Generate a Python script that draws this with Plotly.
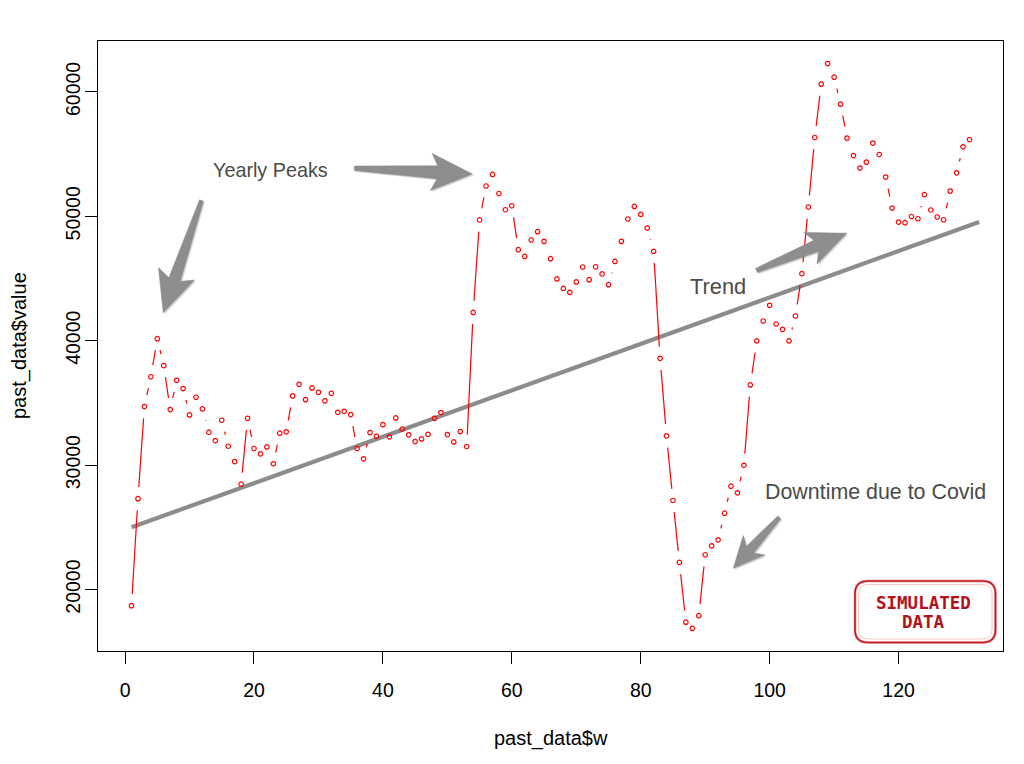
import math
import plotly.graph_objects as go

# ---------------- data ----------------
weeks = list(range(1, 132))
values = [
    18700, 27300, 34700, 37100, 40160, 38000, 34460, 36810, 36150, 34030,
    35450, 34510, 32640, 31970, 33600, 31510, 30280, 28460, 33760, 31330,
    30900, 31460, 30100, 32560, 32670, 35560, 36490, 35260, 36200, 35850,
    35160, 35770, 34240, 34320, 34060, 31330, 30500, 32610, 32310, 33250,
    32270, 33790, 32900, 32430, 31890, 32100, 32470, 33760, 34220, 32450,
    31860, 32690, 31490, 42270, 49700, 52430, 53360, 51830, 50520, 50840,
    47310, 46770, 48090, 48760, 47980, 46590, 44960, 44200, 43880, 44720,
    45920, 44900, 45940, 45360, 44500, 46370, 47980, 49780, 50790, 50150,
    49050, 47170, 38580, 32350, 27150, 22170, 17370, 16870, 17890, 22790,
    23510, 23990, 26130, 28300, 27770, 29980, 36440, 39980, 41580, 42840,
    41340, 40910, 39980, 41980, 45380, 50740, 56330, 60620, 62270, 61180,
    59010, 56280, 54880, 53870, 54350, 55880, 54960, 53150, 50660, 49530,
    49480, 49980, 49800, 51730, 50500, 49940, 49720, 52020, 53490, 55580,
    56170,
]
trend_w = [1, 132.5]
trend_v = [25000, 49540]
x_ticks = [0, 20, 40, 60, 80, 100, 120]
y_ticks = [20000, 30000, 40000, 50000, 60000]
x_title = "past_data$w"
y_title = "past_data$value"
notes = ["Yearly Peaks", "Trend", "Downtime due to Covid"]
stamp_lines = ["SIMULATED", "DATA"]

# ---------------- layout geometry (page pixels; body has 8px margin) ----------------
OFF = 8
FW, FH = 1016, 756
PL, PR, PT, PB = 98, 1003, 41, 651
ML = PL - OFF
MT = PT - OFF
MR = FW - (PR - OFF)
MB = FH - (PB - OFF)
PW = PR - PL
PH = PB - PT

def r_range(v):
    lo, hi = min(v), max(v)
    d = hi - lo
    return [lo - 0.04 * d, hi + 0.04 * d]

xr = r_range(weeks)
yr = r_range(values)
sx = PW / (xr[1] - xr[0])
sy = PH / (yr[1] - yr[0])

# R type="b": line segments with gaps around points
GAP = 11.7
seg_x, seg_y = [], []
for i in range(len(weeks) - 1):
    x1, y1 = (weeks[i] - xr[0]) * sx, (values[i] - yr[0]) * sy
    x2, y2 = (weeks[i + 1] - xr[0]) * sx, (values[i + 1] - yr[0]) * sy
    d = math.hypot(x2 - x1, y2 - y1)
    if d > 2 * GAP:
        ux, uy = (x2 - x1) / d, (y2 - y1) / d
        ax, ay = x1 + GAP * ux, y1 + GAP * uy
        bx, by = x2 - GAP * ux, y2 - GAP * uy
        seg_x += [ax / sx + xr[0], bx / sx + xr[0], None]
        seg_y += [ay / sy + yr[0], by / sy + yr[0], None]

fig = go.Figure()
fig.add_trace(go.Scatter(x=trend_w, y=trend_v, mode="lines",
                         line=dict(color="#8c8c8c", width=4.2), hoverinfo="skip"))
fig.add_trace(go.Scatter(x=seg_x, y=seg_y, mode="lines",
                         line=dict(color="#ff0000", width=1.2), hoverinfo="skip"))
fig.add_trace(go.Scatter(x=weeks, y=values, mode="markers",
                         marker=dict(symbol="circle-open", size=4.5, color="#ff0000",
                                     line=dict(width=1.2, color="#ff0000"))))

# ---------------- decorations (page-pixel based) ----------------
def px(x):
    return (x - PL) / PW

def py(y):
    return (PB - y) / PH

def arrow_path(tail, tip, hl, hw, w0, w1, dx=0.0, dy=0.0):
    tx, ty = tail[0] + dx, tail[1] + dy
    kx, ky = tip[0] + dx, tip[1] + dy
    d = math.hypot(kx - tx, ky - ty)
    ux, uy = (kx - tx) / d, (ky - ty) / d
    nx, ny = -uy, ux
    bx, by = kx - hl * ux, ky - hl * uy
    sweep = 4
    pts = [
        (tx + nx * w0 / 2, ty + ny * w0 / 2),
        (bx + nx * w1 / 2 + ux * 2, by + ny * w1 / 2 + uy * 2),
        (bx + nx * hw - ux * sweep, by + ny * hw - uy * sweep),
        (kx, ky),
        (bx - nx * hw - ux * sweep, by - ny * hw - uy * sweep),
        (bx - nx * w1 / 2 + ux * 2, by - ny * w1 / 2 + uy * 2),
        (tx - nx * w0 / 2, ty - ny * w0 / 2),
    ]
    return "M " + " L ".join(f"{px(a):.5f} {py(b):.5f}" for a, b in pts) + " Z"

arrows = [
    dict(tail=(201.5, 200.5), tip=(163.3, 312.7), hl=37, hw=19, w0=4, w1=12),
    dict(tail=(354.5, 168.3), tip=(472.3, 174.0), hl=37, hw=18.5, w0=4.5, w1=13),
    dict(tail=(756.5, 270.5), tip=(846.7, 233.3), hl=35, hw=17, w0=4.5, w1=12),
    dict(tail=(779.3, 517.3), tip=(733.3, 568.3), hl=27, hw=14.5, w0=4, w1=10),
]
shapes = []
for a in arrows:
    shapes.append(dict(type="path", xref="paper", yref="paper",
                       path=arrow_path(a["tail"], a["tip"], a["hl"], a["hw"], a["w0"], a["w1"], 1.5, 1.5),
                       fillcolor="rgba(90,90,90,0.25)", line=dict(width=0), layer="above"))
    shapes.append(dict(type="path", xref="paper", yref="paper",
                       path=arrow_path(a["tail"], a["tip"], a["hl"], a["hw"], a["w0"], a["w1"]),
                       fillcolor="#8e8e8e", line=dict(color="#8a8a8a", width=0.6), layer="above"))

def rrect(x0, y0, x1, y1, r):
    P = lambda a, b: f"{px(a):.5f} {py(b):.5f}"
    return (f"M {P(x0 + r, y0)} L {P(x1 - r, y0)} Q {P(x1, y0)} {P(x1, y0 + r)} "
            f"L {P(x1, y1 - r)} Q {P(x1, y1)} {P(x1 - r, y1)} L {P(x0 + r, y1)} "
            f"Q {P(x0, y1)} {P(x0, y1 - r)} L {P(x0, y0 + r)} Q {P(x0, y0)} {P(x0 + r, y0)} Z")

shapes.append(dict(type="path", xref="paper", yref="paper", path=rrect(855, 581, 995.5, 642.5, 13),
                   fillcolor="white", line=dict(color="#f2b8b8", width=3), layer="above"))
shapes.append(dict(type="path", xref="paper", yref="paper", path=rrect(855, 581, 995.5, 642.5, 13),
                   fillcolor="rgba(0,0,0,0)", line=dict(color="#c4141c", width=1.6), layer="above"))
shapes.append(dict(type="path", xref="paper", yref="paper", path=rrect(858.5, 584.5, 992, 639, 10),
                   fillcolor="rgba(0,0,0,0)", line=dict(color="#f4c8c8", width=1), layer="above"))

FONT = "Liberation Sans, Arial, Helvetica, sans-serif"
annos = [
    dict(text=notes[0], x=px(270.5), y=py(169.5), size=19.8),
    dict(text=notes[1], x=px(718), y=py(286), size=21.8),
    dict(text=notes[2], x=px(875.5), y=py(492), size=21.4),
]
annotations = []
for a in annos:
    annotations.append(dict(text=a["text"], x=a["x"], y=a["y"], xref="paper", yref="paper",
                            showarrow=False, xanchor="center", yanchor="middle",
                            font=dict(family=FONT, size=a["size"], color="#4a4a4a")))
for t, yy in zip(stamp_lines, [602.5, 622]):
    annotations.append(dict(text=f"<b>{t}</b>", x=px(923.5), y=py(yy), xref="paper", yref="paper",
                            showarrow=False, xanchor="center", yanchor="middle",
                            font=dict(family="DejaVu Sans Mono, monospace", size=17.5, color="#b4101a")))
annotations.append(dict(text=x_title, x=px(551), y=py(738), xref="paper", yref="paper",
                        showarrow=False, xanchor="center", yanchor="middle",
                        font=dict(family=FONT, size=20, color="black")))
annotations.append(dict(text=y_title, x=px(19), y=py(346), xref="paper", yref="paper",
                        showarrow=False, xanchor="center", yanchor="middle", textangle=-90,
                        font=dict(family=FONT, size=20, color="black")))

axis_common = dict(showgrid=False, zeroline=False, showline=True, mirror=True,
                   linecolor="black", linewidth=1, ticks="outside", ticklen=12,
                   tickwidth=1, tickcolor="black",
                   tickfont=dict(family=FONT, size=19.5, color="black"))

fig.update_layout(
    width=FW, height=FH,
    margin=dict(l=ML, r=MR, t=MT, b=MB, pad=0),
    paper_bgcolor="white", plot_bgcolor="white",
    showlegend=False,
    xaxis=dict(range=xr, tickvals=x_ticks, ticktext=[str(v) for v in x_ticks],
               ticklabelstandoff=10, **axis_common),
    yaxis=dict(range=yr, tickvals=y_ticks, ticktext=[str(v) for v in y_ticks],
               tickangle=-90, ticklabelstandoff=-3, **axis_common),
    shapes=shapes,
    annotations=annotations,
)

fig.write_html("out.html")
